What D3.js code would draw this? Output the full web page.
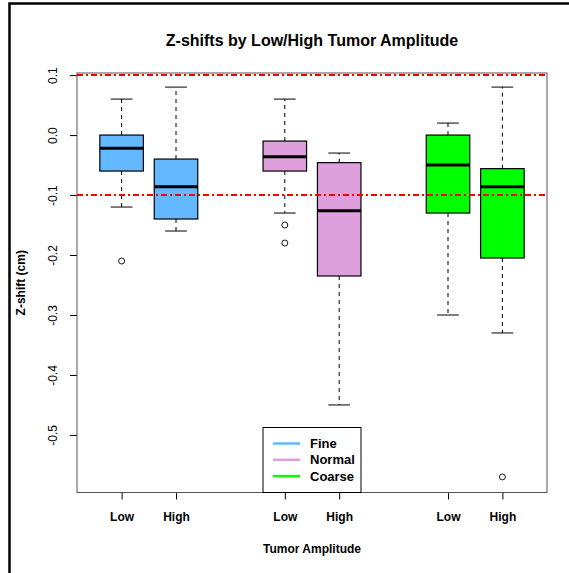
<!DOCTYPE html>
<html>
<head>
<meta charset="utf-8">
<script src="https://cdn.jsdelivr.net/npm/d3@7"></script>
<style>
  html, body { margin: 0; padding: 0; background: #fff; }
  svg { display: block; font-family: "Liberation Sans", Arial, Helvetica, sans-serif; }
</style>
</head>
<body>
<script>
// Box summaries of z-shift (cm), grouped by scan resolution and tumor amplitude
const categories = ["Low", "High", "Low", "High", "Low", "High"];
const groups = ["Fine", "Fine", "Normal", "Normal", "Coarse", "Coarse"];
const positions = [1, 2, 4, 5, 7, 8];
const lowerWhisker = [-0.12, -0.16, -0.13, -0.45, -0.30, -0.33];
const q1 = [-0.06, -0.14, -0.06, -0.235, -0.13, -0.205];
const medians = [-0.022, -0.086, -0.036, -0.126, -0.05, -0.086];
const q3 = [0.0, -0.04, -0.01, -0.046, 0.0, -0.056];
const upperWhisker = [0.06, 0.08, 0.06, -0.03, 0.02, 0.08];
const outliers = [[-0.21], [], [-0.15, -0.18], [], [], [-0.57]];
const yTicks = [0.1, 0.0, -0.1, -0.2, -0.3, -0.4, -0.5];
const refLines = [0.1, -0.1];
const legendLabels = ["Fine", "Normal", "Coarse"];
const legendColors = ["#63B8FF", "#DDA0DD", "#00FF00"];

const W = 569, H = 573;
const plot = { left: 77, right: 547, top: 73, bottom: 492.5 };

const svg = d3.select("body").append("svg").attr("width", W).attr("height", H);

const x = d3.scaleLinear().domain([0.18, 8.82]).range([plot.left, plot.right]);
const y = d3.scaleLinear().domain([-0.596, 0.1035]).range([plot.bottom, plot.top]);
const color = d3.scaleOrdinal().domain(legendLabels).range(legendColors);

// outer frame
svg.append("path")
  .attr("d", `M9.5,${H + 5} V3.5 H${W + 5}`)
  .attr("fill", "none").attr("stroke", "#000").attr("stroke-width", 2.5);

// title
svg.append("text")
  .attr("x", (plot.left + plot.right) / 2).attr("y", 46)
  .attr("text-anchor", "middle").attr("font-weight", "bold").attr("font-size", 16)
  .text("Z-shifts by Low/High Tumor Amplitude");

// y axis
const yAxis = svg.append("g").attr("transform", `translate(${plot.left},0)`)
  .call(d3.axisLeft(y).tickValues(yTicks).tickSize(7).tickFormat(v => v.toFixed(1)));
yAxis.select(".domain").remove();
yAxis.selectAll(".tick line").attr("stroke", "#000");
yAxis.selectAll(".tick text")
  .attr("font-size", 12).attr("fill", "#000")
  .attr("text-anchor", "middle")
  .attr("x", null).attr("dy", null)
  .attr("transform", "translate(-20,0) rotate(-90)");

// x axis
const xAxis = svg.append("g").attr("transform", `translate(0,${plot.bottom})`)
  .call(d3.axisBottom(x).tickValues(positions).tickSize(7)
    .tickFormat((d, i) => categories[i]));
xAxis.select(".domain").remove();
xAxis.selectAll(".tick line").attr("stroke", "#000");
xAxis.selectAll(".tick text")
  .attr("font-size", 12).attr("font-weight", "bold").attr("fill", "#000")
  .attr("y", 28).attr("dy", null);

// axis titles
svg.append("text")
  .attr("transform", `translate(25,${(plot.top + plot.bottom) / 2}) rotate(-90)`)
  .attr("text-anchor", "middle").attr("font-weight", "bold").attr("font-size", 12)
  .text("Z-shift (cm)");
svg.append("text")
  .attr("x", (plot.left + plot.right) / 2).attr("y", 553)
  .attr("text-anchor", "middle").attr("font-weight", "bold").attr("font-size", 12)
  .text("Tumor Amplitude");

// boxes
const boxW = 0.8, capW = 0.4;
const data = positions.map((p, i) => ({
  p, group: groups[i], lo: lowerWhisker[i], q1: q1[i], med: medians[i],
  q3: q3[i], hi: upperWhisker[i], out: outliers[i]
}));
const g = svg.append("g");
const b = g.selectAll("g.box").data(data).join("g").attr("class", "box");

b.append("line").attr("x1", d => x(d.p)).attr("x2", d => x(d.p))
  .attr("y1", d => y(d.q3)).attr("y2", d => y(d.hi))
  .attr("stroke", "#000").attr("stroke-dasharray", "4,4");
b.append("line").attr("x1", d => x(d.p)).attr("x2", d => x(d.p))
  .attr("y1", d => y(d.q1)).attr("y2", d => y(d.lo))
  .attr("stroke", "#000").attr("stroke-dasharray", "4,4");
b.append("line").attr("x1", d => x(d.p - capW / 2)).attr("x2", d => x(d.p + capW / 2))
  .attr("y1", d => y(d.hi)).attr("y2", d => y(d.hi)).attr("stroke", "#000");
b.append("line").attr("x1", d => x(d.p - capW / 2)).attr("x2", d => x(d.p + capW / 2))
  .attr("y1", d => y(d.lo)).attr("y2", d => y(d.lo)).attr("stroke", "#000");
b.append("rect")
  .attr("x", d => x(d.p - boxW / 2)).attr("width", d => x(d.p + boxW / 2) - x(d.p - boxW / 2))
  .attr("y", d => y(d.q3)).attr("height", d => y(d.q1) - y(d.q3))
  .attr("fill", d => color(d.group)).attr("stroke", "#000").attr("stroke-width", 1.2);
b.append("line").attr("x1", d => x(d.p - boxW / 2)).attr("x2", d => x(d.p + boxW / 2))
  .attr("y1", d => y(d.med)).attr("y2", d => y(d.med))
  .attr("stroke", "#000").attr("stroke-width", 3);
b.selectAll("circle").data(d => d.out.map(v => ({ p: d.p, v }))).join("circle")
  .attr("cx", d => x(d.p)).attr("cy", d => y(d.v)).attr("r", 3)
  .attr("fill", "none").attr("stroke", "#000").attr("stroke-width", 0.9);

// reference lines
svg.selectAll("line.ref").data(refLines).join("line").attr("class", "ref")
  .attr("x1", plot.left).attr("x2", plot.right)
  .attr("y1", d => y(d)).attr("y2", d => y(d))
  .attr("stroke", "#FF0000").attr("stroke-width", 2).attr("stroke-dasharray", "6,3,2,3");

// plot border
svg.append("rect")
  .attr("x", plot.left).attr("y", plot.top)
  .attr("width", plot.right - plot.left).attr("height", plot.bottom - plot.top)
  .attr("fill", "none").attr("stroke", "#555").attr("stroke-width", 1);

// legend
const lg = svg.append("g").attr("transform", "translate(263,427.5)");
lg.append("rect").attr("width", 98).attr("height", plot.bottom - 427.5)
  .attr("fill", "#fff").attr("stroke", "#000").attr("stroke-width", 1);
legendLabels.forEach((lab, i) => {
  const yy = 16 + i * 16.3;
  lg.append("line").attr("x1", 10).attr("x2", 37).attr("y1", yy).attr("y2", yy)
    .attr("stroke", color(lab)).attr("stroke-width", 2.5);
  lg.append("text").attr("x", 47).attr("y", yy + 4.5)
    .attr("font-size", 13).attr("font-weight", "bold").text(lab);
});
</script>
</body>
</html>
